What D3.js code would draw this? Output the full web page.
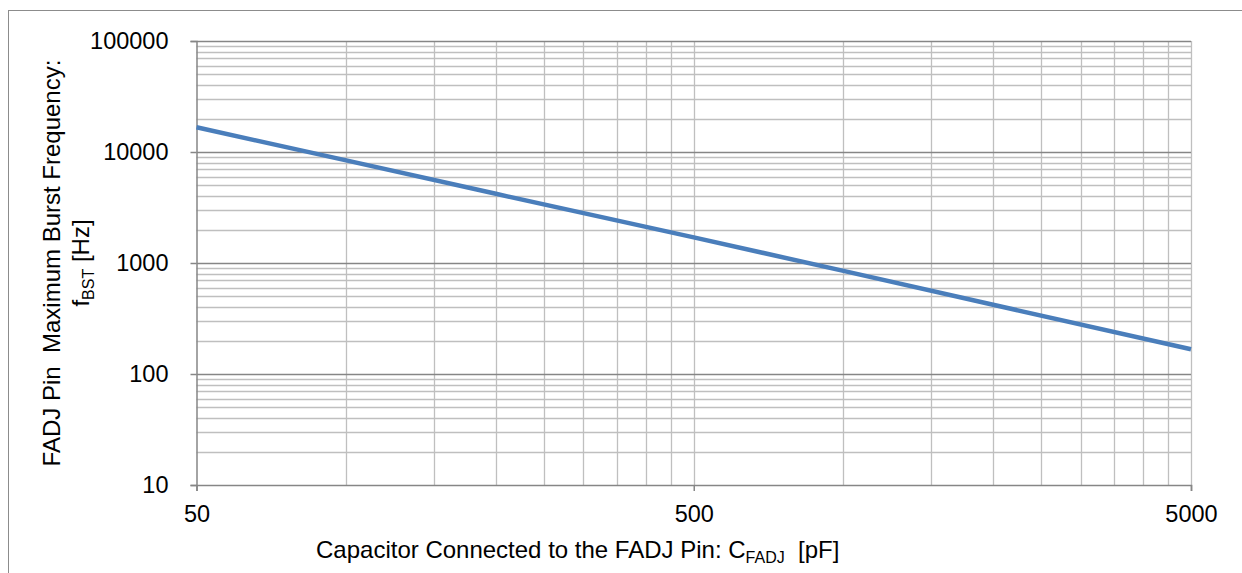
<!DOCTYPE html>
<html>
<head>
<meta charset="utf-8">
<script src="https://cdn.jsdelivr.net/npm/d3@7"></script>
<style>
  body { margin: 0; background: #fff; }
  svg { font-family: "Liberation Sans", Arial, sans-serif; }
</style>
</head>
<body>
<div id="chart"></div>
<script>
// Chart data
const capacitance = [50, 100, 200, 500, 1000, 2000, 5000];      // pF
const burstFreq = [16700, 8400, 4200, 1700, 850, 420, 167];      // Hz

const xTickValues = [50, 500, 5000];
const yTickValues = [10, 100, 1000, 10000, 100000];

const width = 1242;
const height = 573;
const plot = { left: 196.5, right: 1191, top: 41, bottom: 485 };
const tickSize = 23.5;
const titleSize = 24;
const subSize = 16;

const svg = d3.select('#chart').append('svg')
  .attr('width', width)
  .attr('height', height);

// outer chart border
svg.append('rect')
  .attr('x', 8.5)
  .attr('y', 10.5)
  .attr('width', width)
  .attr('height', height)
  .attr('fill', 'none')
  .attr('stroke', '#8c8c8c')
  .attr('stroke-width', 1);

const x = d3.scaleLog().domain([50, 5000]).range([plot.left, plot.right]);
const y = d3.scaleLog().domain([10, 100000]).range([plot.bottom, plot.top]);

// minor gridlines: k * base for each decade
const xMinor = [];
[50, 500].forEach(b => { for (let k = 2; k <= 9; k++) xMinor.push(b * k); });
const yMinor = [];
[10, 100, 1000, 10000].forEach(b => { for (let k = 2; k <= 9; k++) yMinor.push(b * k); });

const grid = svg.append('g').attr('class', 'grid');

grid.selectAll('.ygrid-minor')
  .data(yMinor)
  .enter().append('line')
  .attr('x1', plot.left).attr('x2', plot.right)
  .attr('y1', d => Math.round(y(d)) + 0.5).attr('y2', d => Math.round(y(d)) + 0.5)
  .attr('stroke', '#bfbfbf')
  .attr('stroke-width', 1.3);

grid.selectAll('.xgrid-minor')
  .data(xMinor.concat([500, 5000]))
  .enter().append('line')
  .attr('y1', plot.top).attr('y2', plot.bottom)
  .attr('x1', d => Math.round(x(d)) + 0.5).attr('x2', d => Math.round(x(d)) + 0.5)
  .attr('stroke', '#bfbfbf')
  .attr('stroke-width', 1.3);

grid.selectAll('.ygrid-major')
  .data(yTickValues.slice(1))
  .enter().append('line')
  .attr('x1', plot.left).attr('x2', plot.right)
  .attr('y1', d => Math.round(y(d)) + 0.5).attr('y2', d => Math.round(y(d)) + 0.5)
  .attr('stroke', '#868686')
  .attr('stroke-width', 1.3);

// axes
const yAxis = svg.append('g')
  .attr('transform', `translate(${plot.left},0)`)
  .call(d3.axisLeft(y).tickValues(yTickValues).tickFormat(d3.format('d')).tickSize(6).tickPadding(22));

const xAxis = svg.append('g')
  .attr('transform', `translate(0,${plot.bottom})`)
  .call(d3.axisBottom(x).tickValues(xTickValues).tickFormat(d3.format('d')).tickSize(6).tickPadding(14));

[xAxis, yAxis].forEach(a => {
  a.attr('font-size', tickSize).attr('font-family', '"Liberation Sans", Arial, sans-serif');
  a.select('.domain').attr('stroke', '#868686').attr('stroke-width', 1.5);
  a.selectAll('.tick line').attr('stroke', '#868686').attr('stroke-width', 1.5);
  a.selectAll('.tick text').attr('fill', '#000');
});

// data line
const line = d3.line()
  .x((d, i) => x(capacitance[i]))
  .y(d => y(d));

svg.append('path')
  .datum(burstFreq)
  .attr('d', line)
  .attr('fill', 'none')
  .attr('stroke', '#4a7ebb')
  .attr('stroke-width', 4.5);

// axis titles
const xTitle = svg.append('text')
  .attr('x', 316)
  .attr('y', 558)
  .attr('font-size', titleSize)
  .attr('fill', '#000');
xTitle.append('tspan').text('Capacitor Connected to the FADJ Pin: C');
xTitle.append('tspan').attr('font-size', subSize).attr('dy', 5).text('FADJ');
xTitle.append('tspan').attr('dy', -5).text('\u00a0\u00a0[pF]');

const yTitle = svg.append('g')
  .attr('transform', 'translate(0,263) rotate(-90)');

yTitle.append('text')
  .attr('x', 0)
  .attr('y', 60)
  .attr('text-anchor', 'middle')
  .attr('font-size', titleSize)
  .attr('fill', '#000')
  .text('FADJ Pin\u00a0\u00a0Maximum Burst Frequency:');

const yTitle2 = yTitle.append('text')
  .attr('x', 0)
  .attr('y', 89)
  .attr('text-anchor', 'middle')
  .attr('font-size', titleSize)
  .attr('fill', '#000');
yTitle2.append('tspan').text('f');
yTitle2.append('tspan').attr('font-size', subSize).attr('dy', 5).text('BST');
yTitle2.append('tspan').attr('dy', -5).text(' [Hz]');
</script>
</body>
</html>
